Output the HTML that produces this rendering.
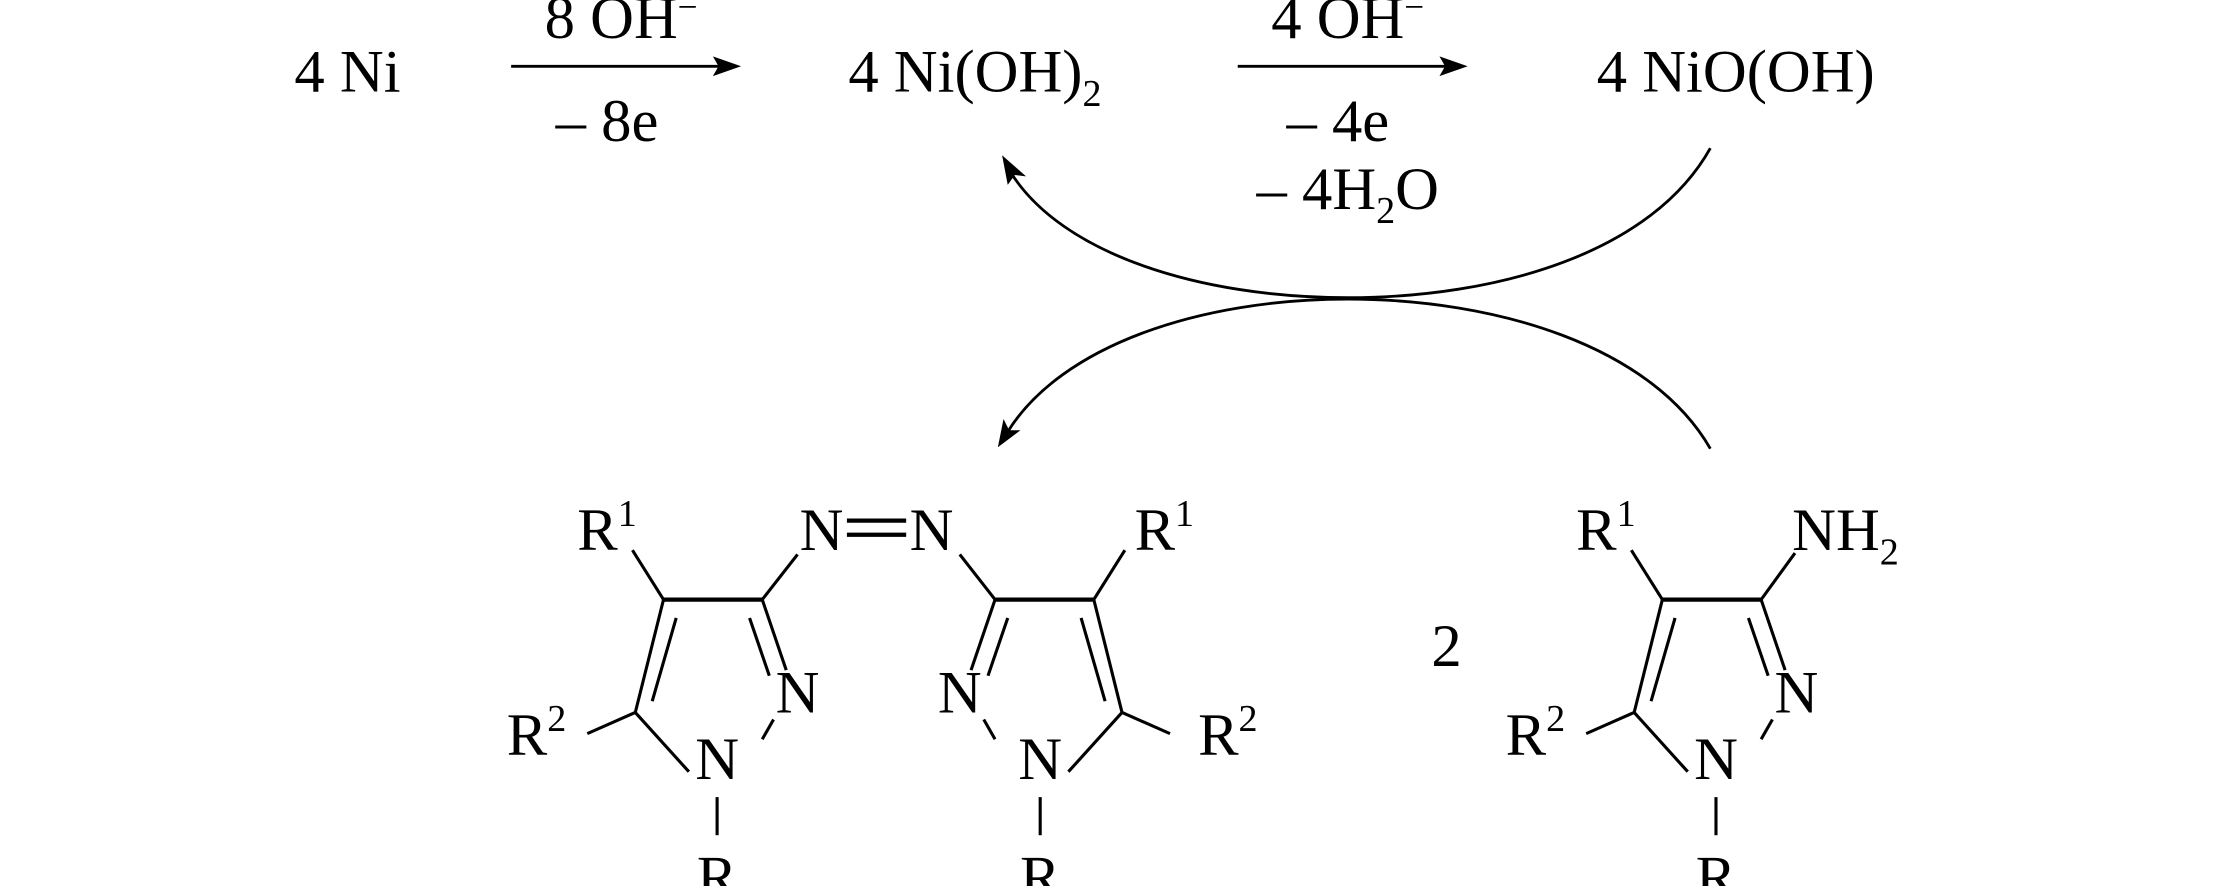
<!DOCTYPE html>
<html><head><meta charset="utf-8"><style>
html,body{margin:0;padding:0;background:#fff;}
svg{display:block;}
text{font-family:"Liberation Serif",serif;fill:#000;}
</style></head><body>
<svg width="2213" height="886" viewBox="0 0 1568 628" xmlns="http://www.w3.org/2000/svg">
<g font-size="43">
<text x="246" y="65" text-anchor="middle">4 Ni</text>
<text x="440" y="27" text-anchor="middle">8 OH<tspan dy="-14" font-size="25">−</tspan></text>
<text x="430" y="100" text-anchor="middle">– 8e</text>
<text x="601" y="65">4 Ni(OH)<tspan dy="10" font-size="27">2</tspan></text>
<text x="955" y="27" text-anchor="middle">4 OH<tspan dy="-14" font-size="25">−</tspan></text>
<text x="948" y="100" text-anchor="middle">– 4e</text>
<text x="955" y="148" text-anchor="middle">– 4H<tspan dy="10" font-size="27">2</tspan><tspan dy="-10">O</tspan></text>
<text x="1230" y="65" text-anchor="middle">4 NiO(OH)</text>
</g>
<g stroke="#000" stroke-width="2" fill="none">
<line x1="362" y1="47" x2="510" y2="47"/>
<line x1="877" y1="47" x2="1025" y2="47"/>
<path d="M1212,105 C1170,180 1060,211 955,211 C850,211 752,180 716,122"/>
<path d="M1212,318 C1170,245 1060,212 955,212 C850,212 752,245 714,306"/>
</g>
<g fill="#000">
<polygon points="525,47 505,40 509,47 505,54"/>
<polygon points="1040,47 1020,40 1024,47 1020,54"/>
<polygon points="710,110 727,125 719,124 714,131"/>
<polygon points="707,317 711,297 715,305 723,305"/>
</g>

<g id="ring" stroke="#000" stroke-width="2.2" fill="none">
<line x1="470" y1="425" x2="540" y2="425" stroke-width="3"/>
<line x1="470" y1="425" x2="450" y2="505"/>
<line x1="479" y1="438" x2="462" y2="497"/>
<line x1="540" y1="425" x2="557" y2="475"/>
<line x1="531" y1="438" x2="545" y2="479"/>
<line x1="548" y1="510" x2="540" y2="524"/>
<line x1="450" y1="505" x2="488" y2="547"/>
<line x1="450" y1="505" x2="416" y2="520"/>
<line x1="508" y1="565" x2="508" y2="592"/>
<line x1="470" y1="425" x2="448" y2="390"/>
</g>
<g stroke="#000" stroke-width="2.2" fill="none">
<line x1="540" y1="425" x2="565" y2="393"/>
<line x1="680" y1="393" x2="705" y2="425"/>
<line x1="600" y1="369" x2="642" y2="369" stroke-width="3"/>
<line x1="600" y1="379" x2="642" y2="379" stroke-width="3"/>
</g>
<use href="#ring" transform="translate(1245,0) scale(-1,1)"/>
<use href="#ring" transform="translate(708,0)"/>
<line x1="1248" y1="425" x2="1272" y2="392" stroke="#000" stroke-width="2.2"/>

<g font-size="43">
<text x="430" y="390" text-anchor="middle">R<tspan dy="-17" font-size="27">1</tspan></text>
<text x="565" y="505" text-anchor="middle">N</text>
<text x="508" y="552" text-anchor="middle">N</text>
<text x="380" y="535" text-anchor="middle">R<tspan dy="-17" font-size="27">2</tspan></text>
<text x="508" y="636" text-anchor="middle">R</text>
<text x="582" y="390" text-anchor="middle">N</text>
<text x="660" y="390" text-anchor="middle">N</text>
<text x="825" y="390" text-anchor="middle">R<tspan dy="-17" font-size="27">1</tspan></text>
<text x="680" y="505" text-anchor="middle">N</text>
<text x="737" y="552" text-anchor="middle">N</text>
<text x="870" y="535" text-anchor="middle">R<tspan dy="-17" font-size="27">2</tspan></text>
<text x="737" y="636" text-anchor="middle">R</text>
<text x="1025" y="472" text-anchor="middle">2</text>
<text x="1138" y="390" text-anchor="middle">R<tspan dy="-17" font-size="27">1</tspan></text>
<text x="1270" y="390">NH<tspan dy="10" font-size="27">2</tspan></text>
<text x="1273" y="505" text-anchor="middle">N</text>
<text x="1216" y="552" text-anchor="middle">N</text>
<text x="1088" y="535" text-anchor="middle">R<tspan dy="-17" font-size="27">2</tspan></text>
<text x="1216" y="636" text-anchor="middle">R</text>
</g>
</svg>
</body></html>
